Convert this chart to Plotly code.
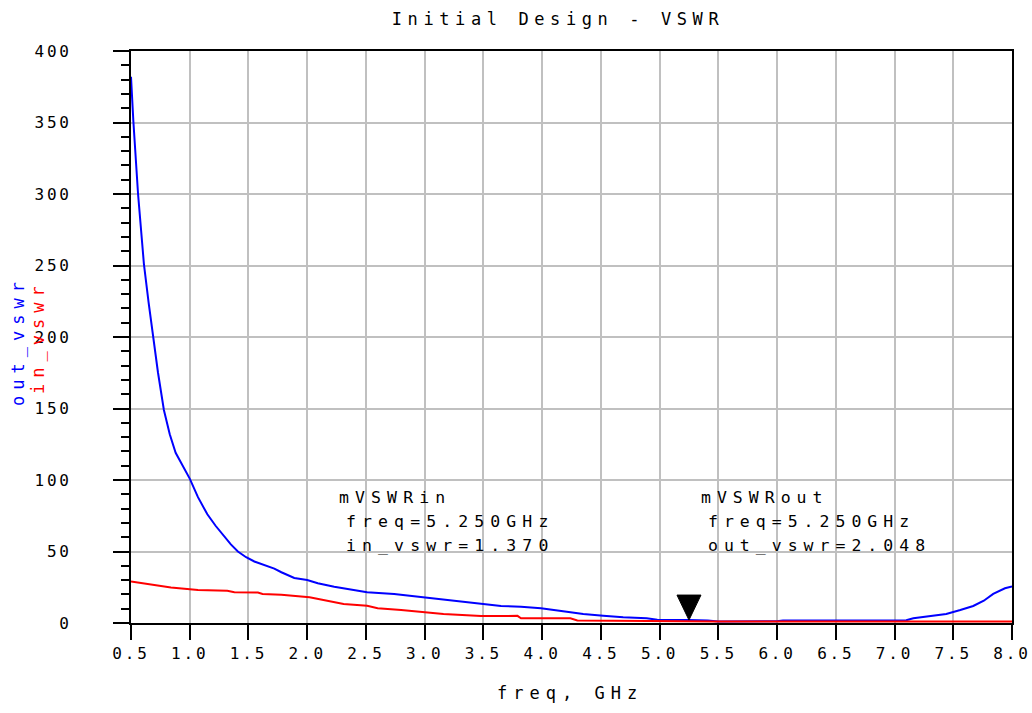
import plotly.graph_objects as go

# ---- data ----
out_freq = [0.50, 0.52, 0.56, 0.61, 0.65, 0.69, 0.73, 0.78, 0.83, 0.88, 0.94, 1.00,
            1.07, 1.15, 1.22, 1.28, 1.35, 1.41, 1.48, 1.55, 1.65, 1.72, 1.78, 1.89,
            2.00, 2.09, 2.23, 2.40, 2.51, 2.74, 2.99, 3.19, 3.48, 3.65, 3.82, 3.99,
            4.21, 4.35, 4.52, 4.69, 4.89, 4.98, 5.25, 5.41, 5.50, 6.00, 6.05, 7.10,
            7.16, 7.27, 7.44, 7.56, 7.67, 7.76, 7.84, 7.94, 8.00]
out_vswr = [382, 351, 300, 251, 224, 200, 175, 149, 132, 119, 110, 101,
            88, 76, 68, 62, 55, 50, 46, 43, 40, 38, 35.5, 31.5,
            30, 27.8, 25.4, 23, 21.5, 20.3, 18, 16, 13.3, 11.9, 11.4, 10.3,
            7.9, 6.3, 5.1, 4.0, 3.3, 2.2, 2.048, 1.8, 1.1, 1.2, 1.8, 1.9,
            3.3, 4.4, 6.3, 9.1, 11.9, 15.6, 20.3, 24.3, 25.5]

in_freq = [0.50, 0.65, 0.84, 1.07, 1.32, 1.38, 1.58, 1.62, 1.78, 2.02, 2.14, 2.31,
           2.51, 2.60, 2.80, 3.00, 3.16, 3.48, 3.79, 3.82, 4.24, 4.30, 5.25, 5.50, 8.00]
in_vswr = [29, 27.3, 24.8, 23.1, 22.5, 21.5, 21.3, 20.3, 19.8, 18, 16, 13.3,
           12, 10.3, 9.1, 7.5, 6.3, 4.9, 5.0, 3.3, 3.3, 1.8, 1.37, 1.05, 1.02]

x_ticks = [0.5, 1.0, 1.5, 2.0, 2.5, 3.0, 3.5, 4.0, 4.5, 5.0, 5.5, 6.0, 6.5, 7.0, 7.5, 8.0]
x_tick_labels = ["0.5", "1.0", "1.5", "2.0", "2.5", "3.0", "3.5", "4.0", "4.5", "5.0",
                 "5.5", "6.0", "6.5", "7.0", "7.5", "8.0"]
y_ticks = [0, 50, 100, 150, 200, 250, 300, 350, 400]
y_tick_labels = ["0", "50", "100", "150", "200", "250", "300", "350", "400"]

marker_freq = 5.25
marker_in_vswr = 1.370
marker_out_vswr = 2.048

FONT = "DejaVu Sans Mono"

# plot area in pixels (for placing free text in paper coordinates)
L, R, T, B = 131, 1012, 51, 623
PW, PH = R - L, B - T


def px_x(x):
    return (x - L) / PW


def px_y(y):
    return (B - y) / PH


def spaced(s, px):
    return '<span style="letter-spacing:%spx">%s</span>' % (px, s)


fig = go.Figure()
fig.add_trace(go.Scatter(x=out_freq, y=out_vswr, mode="lines",
                         line=dict(color="#0000ff", width=2), name="out_vswr"))
fig.add_trace(go.Scatter(x=in_freq, y=in_vswr, mode="lines",
                         line=dict(color="#ff0000", width=2), name="in_vswr"))

# marker triangle (tip on the trace at 5.25 GHz)
fig.add_shape(type="path", xref="x", yref="y", xsizemode="pixel", ysizemode="pixel",
              xanchor=marker_freq, yanchor=marker_out_vswr,
              path="M -12 25 L 12 25 L 0 0 Z",
              fillcolor="black", line=dict(color="black", width=1))

ann_font = dict(family=FONT, size=16.5, color="black")
lines_in = ["mVSWRin", "freq=%.3fGHz" % marker_freq, "in_vswr=%.3f" % marker_in_vswr]
lines_out = ["mVSWRout", "freq=%.3fGHz" % marker_freq, "out_vswr=%.3f" % marker_out_vswr]
for i, (a, b) in enumerate(zip(lines_in, lines_out)):
    ypx = 497 + 24 * i
    indent = 0 if i == 0 else 7
    fig.add_annotation(x=px_x(337 + indent), y=px_y(ypx), xref="paper", yref="paper",
                       xanchor="left", yanchor="middle", showarrow=False,
                       text=spaced(a, 6.1), font=ann_font)
    fig.add_annotation(x=px_x(699 + indent), y=px_y(ypx), xref="paper", yref="paper",
                       xanchor="left", yanchor="middle", showarrow=False,
                       text=spaced(b, 6.0), font=ann_font)

# y-axis labels (two stacked rotated titles)
fig.add_annotation(x=px_x(18), y=px_y(341), xref="paper", yref="paper",
                   xanchor="center", yanchor="middle", showarrow=False, textangle=-90,
                   text=spaced("out_vswr", 6), font=dict(family=FONT, size=17, color="#0000ff"))
fig.add_annotation(x=px_x(38), y=px_y(337), xref="paper", yref="paper",
                   xanchor="center", yanchor="middle", showarrow=False, textangle=-90,
                   text=spaced("in_vswr", 6), font=dict(family=FONT, size=17, color="#ff0000"))

# x-axis label
fig.add_annotation(x=px_x(570), y=px_y(693), xref="paper", yref="paper",
                   xanchor="center", yanchor="middle", showarrow=False,
                   text=spaced("freq, GHz", 6), font=dict(family=FONT, size=17, color="black"))

fig.update_layout(
    width=1032, height=713,
    margin=dict(l=L, r=1032 - R, t=T, b=713 - B, autoexpand=False),
    paper_bgcolor="white", plot_bgcolor="white",
    showlegend=False,
    title=dict(text=spaced("Initial Design - VSWR", 5.6), x=558 / 1032, xanchor="center",
               y=1 - 19 / 713, yanchor="middle",
               font=dict(family=FONT, size=17, color="black")),
    font=dict(family=FONT, size=16, color="black"),
)
fig.update_xaxes(range=[0.5, 8.0], tickvals=x_ticks, automargin=False,
                 ticktext=[spaced(t, 2.8) for t in x_tick_labels],
                 showgrid=True, gridcolor="#c0c0c0", gridwidth=1.5,
                 showline=True, linecolor="black", linewidth=2, mirror=True,
                 ticks="outside", ticklen=15, tickwidth=2, tickcolor="black",
                 ticklabelstandoff=0, zeroline=False,
                 tickfont=dict(family=FONT, size=16, color="black"))
fig.update_yaxes(range=[0, 400], tickvals=y_ticks, automargin=False,
                 ticktext=[spaced(t, 2.8) for t in y_tick_labels],
                 showgrid=True, gridcolor="#c0c0c0", gridwidth=1.5,
                 showline=True, linecolor="black", linewidth=2, mirror=True,
                 ticks="outside", ticklen=16, tickwidth=2, tickcolor="black",
                 ticklabelstandoff=38, zeroline=False,
                 minor=dict(dtick=10, ticks="outside", ticklen=8, tickwidth=2,
                            tickcolor="black", showgrid=False),
                 tickfont=dict(family=FONT, size=16, color="black"))

fig.write_html("out.html")
